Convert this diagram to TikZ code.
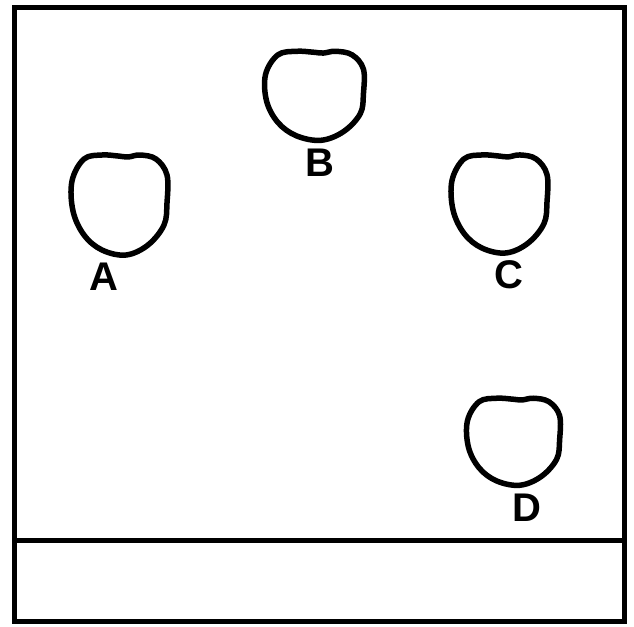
\documentclass[tikz,border=0pt]{standalone}
\usepackage{fontspec}
\setmainfont{Liberation Sans}
\begin{document}
\begin{tikzpicture}[x=1pt,y=-1pt,
  frameline/.style={line width=5pt,line join=miter},
  blobline/.style={line width=5.5pt,line join=round},
  lab/.style={font=\fontsize{40}{40}\selectfont\bfseries,inner sep=0pt},
  blob/.pic={\draw[blobline] plot[smooth cycle,tension=0.6] coordinates {
    (-36,-44) (-18,-48) (-2,-47) (8,-46) (20,-48) (36,-44) (47,-28) (47,0) (44,22)
    (28,42) (6,52) (-18,47) (-36,32) (-47,8) (-48,-22)};}
]
\useasboundingbox (0,0) rectangle (634,626);
\fill[white] (0,0) rectangle (634,626);
\coordinate (tl) at (14,8);
\coordinate (br) at (624,621);
\coordinate (dl) at (14,540);
\coordinate (dr) at (624,540);
\draw[frameline] (tl) rectangle (br);
\draw[frameline] (dl) -- (dr);
\coordinate (cA) at (120,203);
\coordinate (cB) at (315,94);
\coordinate (cC) at (500,202);
\coordinate (cD) at (514,440);
\pic[xscale=1.0,yscale=1.0] at (cA) {blob};
\pic[xscale=1.03,yscale=0.89] at (cB) {blob};
\pic[xscale=1.0,yscale=0.98] at (cC) {blob};
\pic[xscale=0.97,yscale=0.87] at (cD) {blob};
\node[lab] (A) at (104,277) {A};
\node[lab] (B) at (320,163) {B};
\node[lab] (C) at (509,275) {C};
\node[lab] (D) at (527,508) {D};
\end{tikzpicture}
\end{document}
